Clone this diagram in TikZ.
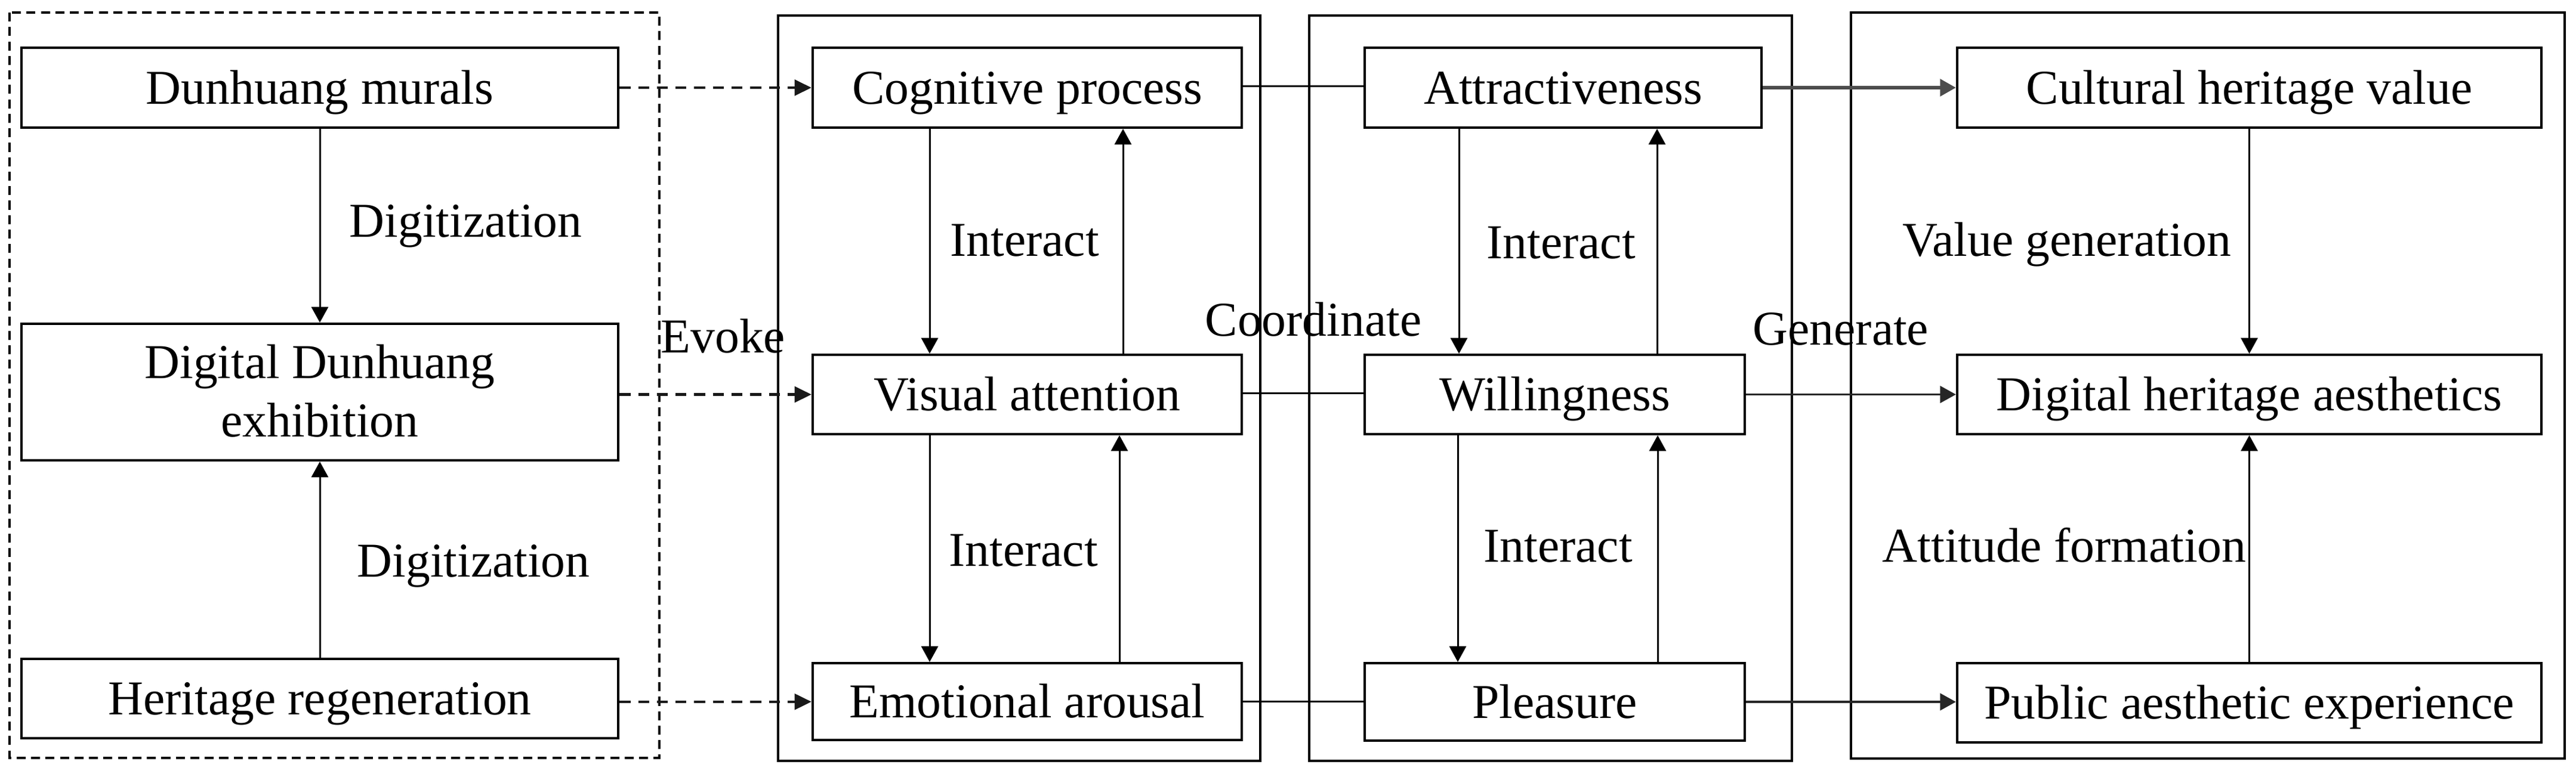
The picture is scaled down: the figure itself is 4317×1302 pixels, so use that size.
\documentclass[tikz,border=0pt]{standalone}
\usepackage{fontspec}
\setmainfont{Liberation Serif}
\usetikzlibrary{arrows.meta}
\begin{document}
\begin{tikzpicture}[x=0.01cm,y=-0.01cm,
  txt/.style={font=\fontsize{23.2pt}{27.9pt}\selectfont},
  box/.style={txt, draw, line width=1.1pt, rectangle, inner sep=0pt, text height=0.62cm, text depth=0.08cm},
  lbl/.style={txt, inner sep=0pt, anchor=base west},
  panel/.style={draw, line width=1.1pt},
  dpanel/.style={draw, line width=0.9pt, dash pattern=on 4.3pt off 2.6pt},
  arr/.style={-{Triangle[length=7.5pt,width=8pt]}, line width=0.85pt},
  darr/.style={-{Triangle[length=8pt,width=7.5pt]}, line width=1.2pt, draw=black!90, dash pattern=on 5.2pt off 3.7pt},
  link/.style={line width=0.9pt},
  garr/.style={-{Triangle[length=7.5pt,width=8pt]}, line width=1.1pt, draw=black!85},
]
\useasboundingbox (0,0) rectangle (4317,1302);
\fill[white] (0,0) rectangle (4317,1302);

% panels
\draw[dpanel] (16,21) rectangle (1105,1271);
\draw[panel] (1304,26) rectangle (2112,1276);
\draw[panel] (2194,26) rectangle (3003,1276);
\draw[panel] (3102,21) rectangle (4298,1272);

% column 1
\node[box, minimum width=10cm, minimum height=1.34cm] (dm) at (536,147) {Dunhuang murals};
\node[box, minimum width=10cm, minimum height=2.29cm] (dde) at (536,657.5) {};
\node[lbl, anchor=base] (dde1) at (536,634) {Digital Dunhuang};
\node[lbl, anchor=base] (dde2) at (536,732) {exhibition};
\node[box, minimum width=10cm, minimum height=1.33cm] (hr) at (536,1171.5) {Heritage regeneration};

% column 2
\node[box, minimum width=7.19cm, minimum height=1.34cm] (cp) at (1721.5,147) {Cognitive process};
\node[box, minimum width=7.19cm, minimum height=1.33cm] (va) at (1721.5,661.5) {Visual attention};
\node[box, minimum width=7.19cm, minimum height=1.29cm] (ea) at (1721.5,1176.5) {Emotional arousal};

% column 3
\node[box, minimum width=6.65cm, minimum height=1.34cm] (at) at (2619.5,147) {Attractiveness};
\node[box, minimum width=6.37cm, minimum height=1.33cm] (wi) at (2605.5,661.5) {Willingness};
\node[box, minimum width=6.37cm, minimum height=1.30cm] (pl) at (2605.5,1177) {Pleasure};

% column 4
\node[box, minimum width=9.79cm, minimum height=1.34cm] (chv) at (3769.5,147) {Cultural heritage value};
\node[box, minimum width=9.79cm, minimum height=1.33cm] (dha) at (3769.5,661.5) {Digital heritage aesthetics};
\node[box, minimum width=9.79cm, minimum height=1.33cm] (pae) at (3769.5,1178.5) {Public aesthetic experience};

% labels
\node[lbl] (d1) at (585,397) {Digitization};
\node[lbl] (d2) at (598,967) {Digitization};
\node[lbl] (ev) at (1107,591) {Evoke};
\node[lbl] (i1) at (1592,429) {Interact};
\node[lbl] (i2) at (2491,433) {Interact};
\node[lbl] (co) at (2019,563) {Coordinate};
\node[lbl] (i3) at (1590,949) {Interact};
\node[lbl] (i4) at (2486,942) {Interact};
\node[lbl] (vg) at (3188,429) {Value generation};
\node[lbl] (ge) at (2937,578) {Generate};
\node[lbl] (af) at (3154,942) {Attitude formation};

% column 1 arrows
\draw[arr] (dm.south) -- (dde.north);
\draw[arr] (hr.north) -- (dde.south);

% dashed arrows
\draw[darr] (dm.east) -- (cp.west);
\draw[darr] (dde.east |- va.west) -- (va.west);
\draw[darr] ([yshift=-1.5pt]hr.east) -- ([yshift=-1.5pt]hr.east -| ea.west);

% column 2 interactions
\draw[arr] (cp.south -| 1558,0) -- (va.north -| 1558,0);
\draw[arr] (va.north -| 1882,0) -- (cp.south -| 1882,0);
\draw[arr] (va.south -| 1558,0) -- (ea.north -| 1558,0);
\draw[arr] (ea.north -| 1876,0) -- (va.south -| 1876,0);

% links col2 -> col3
\draw[link] ([yshift=0.6pt]cp.east) -- ([yshift=0.6pt]cp.east -| at.west);
\draw[link] ([yshift=0.6pt]va.east) -- ([yshift=0.6pt]va.east -| wi.west);
\draw[link] (ea.east) -- (ea.east -| pl.west);

% column 3 interactions
\draw[arr] (at.south -| 2445,0) -- (wi.north -| 2445,0);
\draw[arr] (wi.north -| 2777,0) -- (at.south -| 2777,0);
\draw[arr] (wi.south -| 2443,0) -- (pl.north -| 2443,0);
\draw[arr] (pl.north -| 2778,0) -- (wi.south -| 2778,0);

% col3 -> col4
\draw[garr, line width=1.5pt, draw=black!70] (at.east) -- (chv.west);
\draw[garr] (wi.east) -- (dha.west);
\draw[garr] (pl.east) -- (pl.east -| pae.west);

% column 4 arrows
\draw[arr] (chv.south) -- (dha.north);
\draw[arr] (pae.north) -- (dha.south);
\end{tikzpicture}
\end{document}
